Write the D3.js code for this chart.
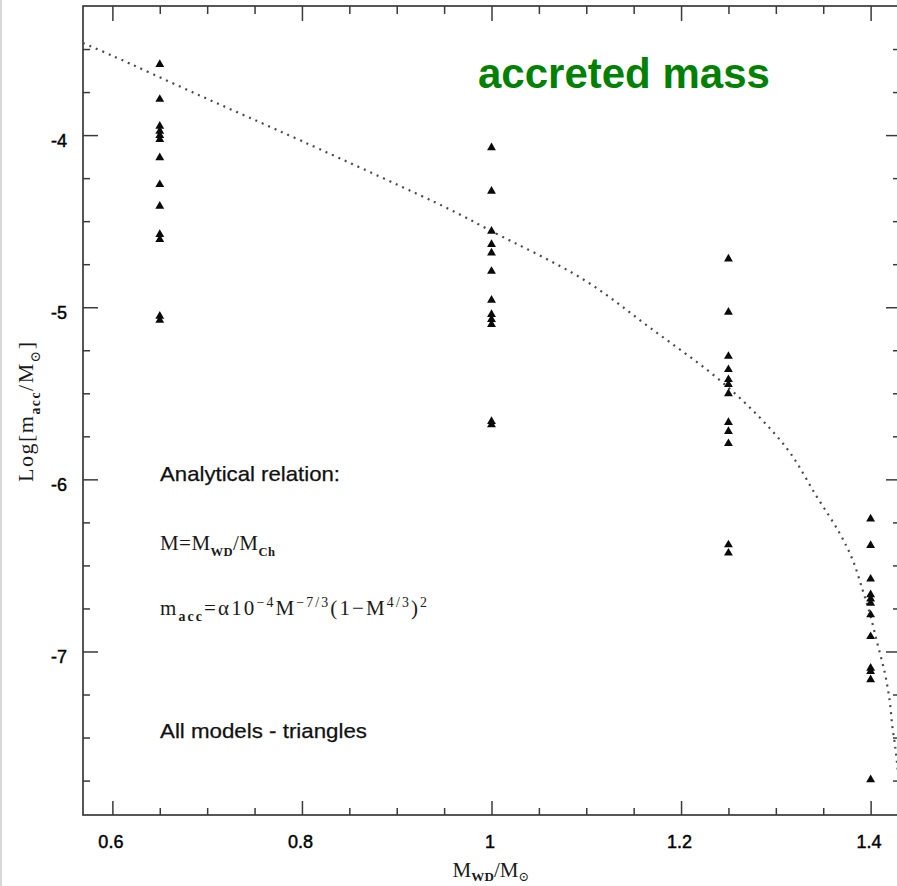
<!DOCTYPE html>
<html><head><meta charset="utf-8">
<script src="https://cdn.jsdelivr.net/npm/d3@7"></script>
<style>html,body{margin:0;padding:0;background:#fff;} svg{display:block;}</style>
</head><body>
<svg id="chart" width="897" height="886"></svg>
<script>
// ---- data ----
const whiteDwarfMasses = [0.65, 1.0, 1.25, 1.4];
const logMaccAt065 = [-3.589,-3.792,-3.948,-3.977,-4.002,-4.025,-4.131,-4.287,-4.413,-4.577,-4.606,-5.052,-5.076];
const logMaccAt100 = [-4.073,-4.326,-4.558,-4.635,-4.684,-4.791,-4.959,-5.042,-5.071,-5.100,-5.663,-5.682];
const logMaccAt125 = [-4.719,-5.029,-5.285,-5.362,-5.420,-5.449,-5.502,-5.669,-5.721,-5.792,-6.380,-6.428];
const logMaccAt140 = [-6.230,-6.384,-6.579,-6.670,-6.695,-6.719,-6.787,-6.913,-7.097,-7.116,-7.164,-7.745];
const relationMass    = [0.569, 0.600, 0.693, 0.800, 0.956, 1.000, 1.097, 1.167, 1.250, 1.311, 1.343, 1.367, 1.381, 1.3915, 1.399, 1.407, 1.415, 1.420, 1.423, 1.426, 1.431];
const relationLogMacc = [-3.465,-3.539,-3.772,-4.035,-4.432,-4.558,-4.839,-5.118,-5.467,-5.816,-6.099,-6.310,-6.467,-6.642,-6.775,-6.951,-7.125,-7.282,-7.439,-7.555,-7.82];
const xTickValues = [0.6, 0.8, 1.0, 1.2, 1.4];
const xTickLabels = ["0.6", "0.8", "1", "1.2", "1.4"];
const xMinorTicks = [0.65,0.7,0.75,0.85,0.9,0.95,1.05,1.1,1.15,1.25,1.3,1.35];
const yTickValues = [-4, -5, -6, -7];
const yTickLabels = ["-4", "-5", "-6", "-7"];
const yMinorTicks = [-3.5,-3.75,-4.25,-4.5,-4.75,-5.25,-5.5,-5.75,-6.25,-6.5,-6.75,-7.25,-7.5,-7.75];

const seriesByMass = [logMaccAt065, logMaccAt100, logMaccAt125, logMaccAt140];

const svg = d3.select("#chart");
const L = 83, R = 900, T = 6, B = 815;
const x = d3.scaleLinear().domain([0.569, 1.431]).range([L, R]);
const y = d3.scaleLinear().domain([-7.95, -3.25]).range([B, T]);

svg.append("rect").attr("width", 897).attr("height", 886).attr("fill", "#fff");
svg.append("rect").attr("x", 0).attr("y", 0).attr("width", 2).attr("height", 886).attr("fill", "#d9d9d9");

const axisColor = "#3a3a3a";
const tickFont = "'Liberation Sans', Arial, sans-serif";
const serif = "'Liberation Serif', 'DejaVu Serif', serif";

function styleAxis(g) {
  g.select(".domain").remove();
  g.selectAll(".tick line").attr("stroke", axisColor).attr("stroke-width", 1.5);
  g.selectAll(".tick text").attr("fill", "#000").attr("stroke", "#000").attr("stroke-width", 0.45)
    .style("font-family", tickFont).style("font-size", "18px");
}

// bottom
svg.append("g").attr("transform", `translate(0,${B})`)
  .call(d3.axisBottom(x).tickValues(xTickValues).tickFormat((d, i) => xTickLabels[i]).tickSize(-14).tickPadding(20))
  .call(styleAxis).call(g => g.selectAll(".tick text").attr("dx", -2));
svg.append("g").attr("transform", `translate(0,${B})`)
  .call(d3.axisBottom(x).tickValues(xMinorTicks).tickFormat("").tickSize(-7)).call(styleAxis);
// top
svg.append("g").attr("transform", `translate(0,${T})`)
  .call(d3.axisTop(x).tickValues(xTickValues).tickFormat("").tickSize(-15)).call(styleAxis);
svg.append("g").attr("transform", `translate(0,${T})`)
  .call(d3.axisTop(x).tickValues(xMinorTicks).tickFormat("").tickSize(-8)).call(styleAxis);
// left
svg.append("g").attr("transform", `translate(${L},0)`)
  .call(d3.axisLeft(y).tickValues(yTickValues).tickFormat((d, i) => yTickLabels[i]).tickSize(-15).tickPadding(16))
  .call(styleAxis).call(g => g.selectAll(".tick text").attr("dy", "0.62em"));
svg.append("g").attr("transform", `translate(${L},0)`)
  .call(d3.axisLeft(y).tickValues(yMinorTicks).tickFormat("").tickSize(-7)).call(styleAxis);
// right
svg.append("g").attr("transform", `translate(${R},0)`)
  .call(d3.axisRight(y).tickValues(yTickValues).tickFormat("").tickSize(-14)).call(styleAxis);
svg.append("g").attr("transform", `translate(${R},0)`)
  .call(d3.axisRight(y).tickValues(yMinorTicks).tickFormat("").tickSize(-7)).call(styleAxis);

// frame
svg.append("rect").attr("x", L).attr("y", T).attr("width", R - L).attr("height", B - T)
  .attr("fill", "none").attr("stroke", axisColor).attr("stroke-width", 1.7);

// clip
svg.append("clipPath").attr("id", "plotclip").append("rect")
  .attr("x", L).attr("y", T).attr("width", R - L).attr("height", B - T);

// dotted analytical relation
const line = d3.line().x((d, i) => x(relationMass[i])).y((d, i) => y(relationLogMacc[i])).curve(d3.curveCatmullRom.alpha(0.5));
svg.append("path").attr("clip-path", "url(#plotclip)")
  .attr("d", line(relationMass))
  .attr("fill", "none").attr("stroke", "#4a4a4a").attr("stroke-width", 2.2)
  .attr("stroke-dasharray", "2,5");

// triangles
const tri = d3.symbol().type(d3.symbolTriangle).size(34);
const pts = [];
seriesByMass.forEach((vals, i) => vals.forEach(v => pts.push({m: whiteDwarfMasses[i], v})));
svg.append("g").selectAll("path").data(pts).join("path")
  .attr("transform", d => `translate(${x(d.m)},${y(d.v)})`)
  .attr("d", tri).attr("fill", "#0a0a0a");

// rich text helper
function rich(parent, px, py, segs, size, family, opts = {}) {
  const t = parent.append("text").attr("x", px).attr("y", py)
    .style("font-family", family).style("font-size", size + "px").attr("fill", opts.fill || "#1a1a1a");
  if (opts.anchor) t.attr("text-anchor", opts.anchor);
  if (opts.transform) t.attr("transform", opts.transform);
  if (opts.length) t.attr("textLength", opts.length).attr("lengthAdjust", "spacing");
  const subK = opts.subK || 0.3;
  let shift = 0;
  segs.forEach(s => {
    const target = s.s === "sub" ? size * subK : s.s === "sup" ? -size * 0.38 : 0;
    const ts = t.append("tspan").attr("dy", target - shift).text(s.t);
    if (s.s) ts.style("font-size", (size * (opts.scriptScale || 0.62)) + "px");
    if (s.b) ts.style("font-weight", "bold");
    shift = target;
  });
  return t;
}

// green title
svg.append("text").attr("x", 478).attr("y", 88).text("accreted mass")
  .style("font-family", tickFont).style("font-weight", "bold").style("font-size", "42px")
  .attr("fill", "#008000");

// annotations
svg.append("text").attr("x", 160).attr("y", 481).text("Analytical relation:")
  .style("font-family", tickFont).style("font-size", "21px").attr("fill", "#111")
  .attr("stroke", "#111").attr("stroke-width", 0.25)
  .attr("textLength", 180).attr("lengthAdjust", "spacingAndGlyphs");
svg.append("text").attr("x", 160).attr("y", 738).text("All models - triangles")
  .style("font-family", tickFont).style("font-size", "21px").attr("fill", "#111")
  .attr("stroke", "#111").attr("stroke-width", 0.25)
  .attr("textLength", 207).attr("lengthAdjust", "spacingAndGlyphs");

rich(svg, 160, 550, [{t: "M=M"}, {t: "WD", s: "sub", b: true}, {t: "/M"}, {t: "Ch", s: "sub", b: true}], 21, serif,
  {length: 115, scriptScale: 0.6});
rich(svg, 160, 615, [{t: "m"}, {t: "acc", s: "sub", b: true}, {t: "=α10"}, {t: "−4", s: "sup"}, {t: "M"}, {t: "−7/3", s: "sup"},
  {t: "(1−M"}, {t: "4/3", s: "sup"}, {t: ")"}, {t: "2", s: "sup"}], 21, serif, {length: 267, scriptScale: 0.66});

// axis titles
rich(svg, 491, 877, [{t: "M"}, {t: "WD", s: "sub", b: true}, {t: "/M"}, {t: "⊙", s: "sub"}], 21, serif,
  {anchor: "middle", subK: 0.2, length: 77});
rich(svg, 0, 0, [{t: "Log[m"}, {t: "acc", s: "sub", b: true}, {t: "/M"}, {t: "⊙", s: "sub"}, {t: "]"}], 22, serif,
  {anchor: "middle", transform: "translate(33,412) rotate(-90)", length: 140});
</script>
</body></html>
